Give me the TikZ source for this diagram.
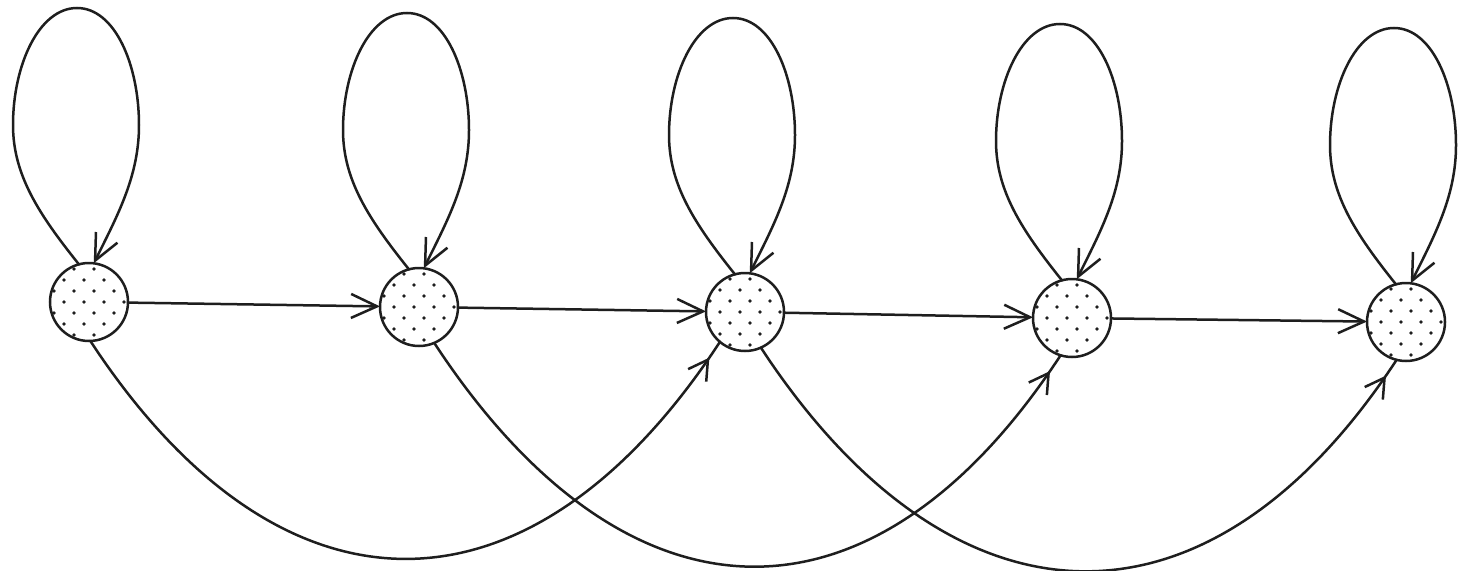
\documentclass[tikz,border=0pt]{standalone}
\usetikzlibrary{arrows.meta,decorations.markings}
\definecolor{ink}{HTML}{1E1E1E}
\tikzset{
  state/.style={circle, draw=ink, line width=2.5pt, minimum size=78pt, inner sep=0pt, outer sep=0pt, fill=white,
    path picture={
      \foreach \j [evaluate=\j as \o using {10*mod(abs(\j),2)}] in {-3,...,3} {
        \foreach \i in {-2,...,2} {
          \fill[ink] ([shift={(\i*20+\o-5,\j*11)}]path picture bounding box.center) circle (1.9pt);
        }
      }
    }},
  edge/.style={draw=ink, line width=2.5pt, line cap=round},
  tipend/.style={-{Straight Barb[length=26pt,width=24pt]}},
  midtip/.style={postaction={decorate}, decoration={markings,
      mark=at position -19pt with {\arrow{Straight Barb[length=19pt,width=22pt]}}}},
}
\newcommand\selfloop[1]{%
  \draw[edge,tipend] (#1.105)
    .. controls +(-40,-50) and +(0,50) .. ([shift={(-76,-177)}]#1.center)
    .. controls +(0,-60) and +(-38,0) .. ([shift={(-12,-294)}]#1.center)
    .. controls +(38,0) and +(0,-60) .. ([shift={(50,-177)}]#1.center)
    .. controls +(0,50) and +(25,-50) .. (#1.83);}
\begin{document}
\begin{tikzpicture}[x=1pt,y=-1pt]
  \useasboundingbox[fill=white] (0,0) rectangle (1458,570);
  \node[state] (n1) at (89,302) {};
  \node[state] (n2) at (419,307) {};
  \node[state] (n3) at (745,312) {};
  \node[state] (n4) at (1072,318) {};
  \node[state] (n5) at (1406,322) {};
  \selfloop{n1}
  \selfloop{n2}
  \selfloop{n3}
  \selfloop{n4}
  \selfloop{n5}
  \draw[edge,tipend] (n1) -- (n2);
  \draw[edge,tipend] (n2) -- (n3);
  \draw[edge,tipend] (n3) -- (n4);
  \draw[edge,tipend] (n4) -- (n5);
  \draw[edge,midtip] (n1.-88) .. controls +(190,290) and +(-190,290) .. (n3.230);
  \draw[edge,midtip] (n2.-67) .. controls +(190,290) and +(-190,290) .. (n4.253);
  \draw[edge,midtip] (n3.-66) .. controls +(190,290) and +(-190,290) .. (n5.256);
\end{tikzpicture}
\end{document}
